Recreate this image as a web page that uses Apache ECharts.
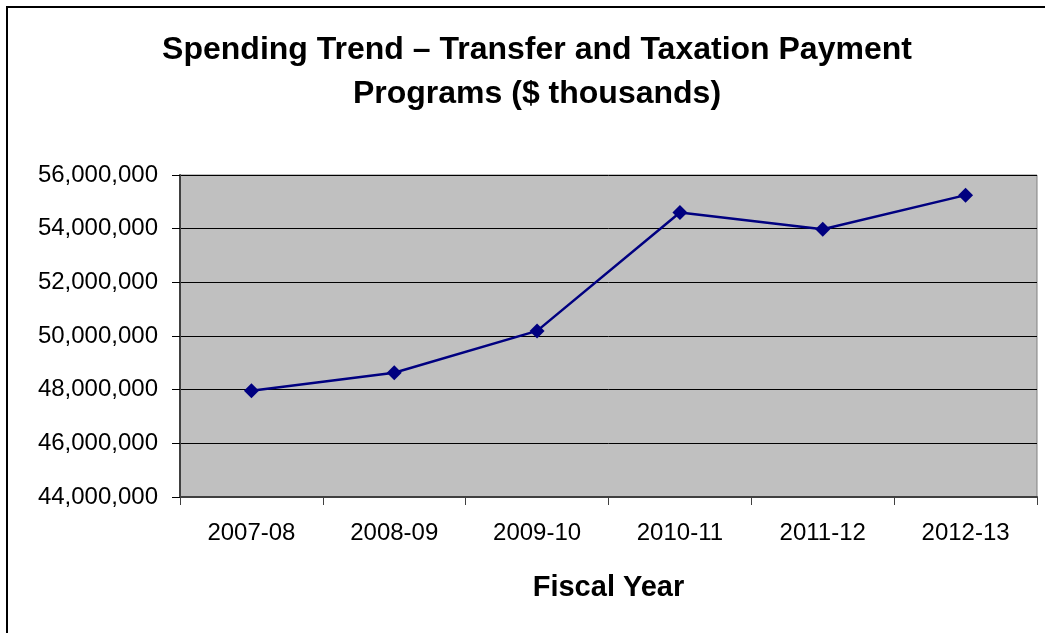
<!DOCTYPE html>
<html>
<head>
<meta charset="utf-8">
<script src="https://cdn.jsdelivr.net/npm/echarts@6/dist/echarts.min.js"></script>
<style>
html,body{margin:0;padding:0;background:#fff;}
#chart{width:1045px;height:633px;}
</style>
</head>
<body>
<div id="chart"></div>
<script>
const titleText = 'Spending Trend \u2013 Transfer and Taxation Payment\nPrograms ($ thousands)';
const xAxisTitle = 'Fiscal Year';
const categories = ['2007-08', '2008-09', '2009-10', '2010-11', '2011-12', '2012-13'];
const spending = [47960000, 48630000, 50190000, 54600000, 53980000, 55250000];
const yMin = 44000000;
const yMax = 56000000;
const yStep = 2000000;

const chart = echarts.init(document.getElementById('chart'), null, {renderer: 'canvas'});
const fmt = v => String(v).replace(/\B(?=(\d{3})+(?!\d))/g, ',');
chart.setOption({
  animation: false,
  backgroundColor: '#ffffff',
  title: {
    text: titleText,
    left: 532,
    textAlign: 'center',
    top: 23,
    textStyle: {
      fontFamily: 'Liberation Sans, Arial, sans-serif',
      fontSize: 32,
      fontWeight: 'bold',
      color: '#000',
      lineHeight: 44
    }
  },
  graphic: [{
    type: 'rect',
    shape: {x: 7, y: 7, width: 1100, height: 700},
    style: {fill: 'none', stroke: '#000', lineWidth: 2},
    silent: true,
    z: -1
  }],
  grid: {
    left: 180, right: 8, top: 175, bottom: 136,
    show: true,
    backgroundColor: '#c0c0c0',
    borderColor: '#808080',
    borderWidth: 1
  },
  xAxis: {
    type: 'category',
    data: categories,
    boundaryGap: true,
    name: xAxisTitle,
    nameLocation: 'middle',
    nameGap: 76,
    nameTextStyle: {
      fontFamily: 'Liberation Sans, Arial, sans-serif',
      fontSize: 29,
      fontWeight: 'bold',
      color: '#000'
    },
    axisLine: {show: true, lineStyle: {color: '#404040', width: 2}},
    axisTick: {show: true, alignWithLabel: false, length: 8, lineStyle: {color: '#404040', width: 1}},
    axisLabel: {
      margin: 24,
      fontFamily: 'Liberation Sans, Arial, sans-serif',
      fontSize: 24,
      color: '#000'
    },
    splitLine: {show: false}
  },
  yAxis: {
    type: 'value',
    min: yMin,
    max: yMax,
    interval: yStep,
    axisLine: {show: true, lineStyle: {color: '#404040', width: 2}},
    axisTick: {show: true, length: 8, lineStyle: {color: '#000', width: 1}},
    axisLabel: {
      margin: 22,
      formatter: fmt,
      fontFamily: 'Liberation Sans, Arial, sans-serif',
      fontSize: 24,
      color: '#000'
    },
    splitLine: {show: true, lineStyle: {color: '#000', width: 1}}
  },
  series: [{
    type: 'line',
    data: spending,
    symbol: 'diamond',
    symbolSize: 15,
    lineStyle: {color: '#000080', width: 2.5},
    itemStyle: {color: '#000080'},
    z: 5
  }]
});
</script>
</body>
</html>
